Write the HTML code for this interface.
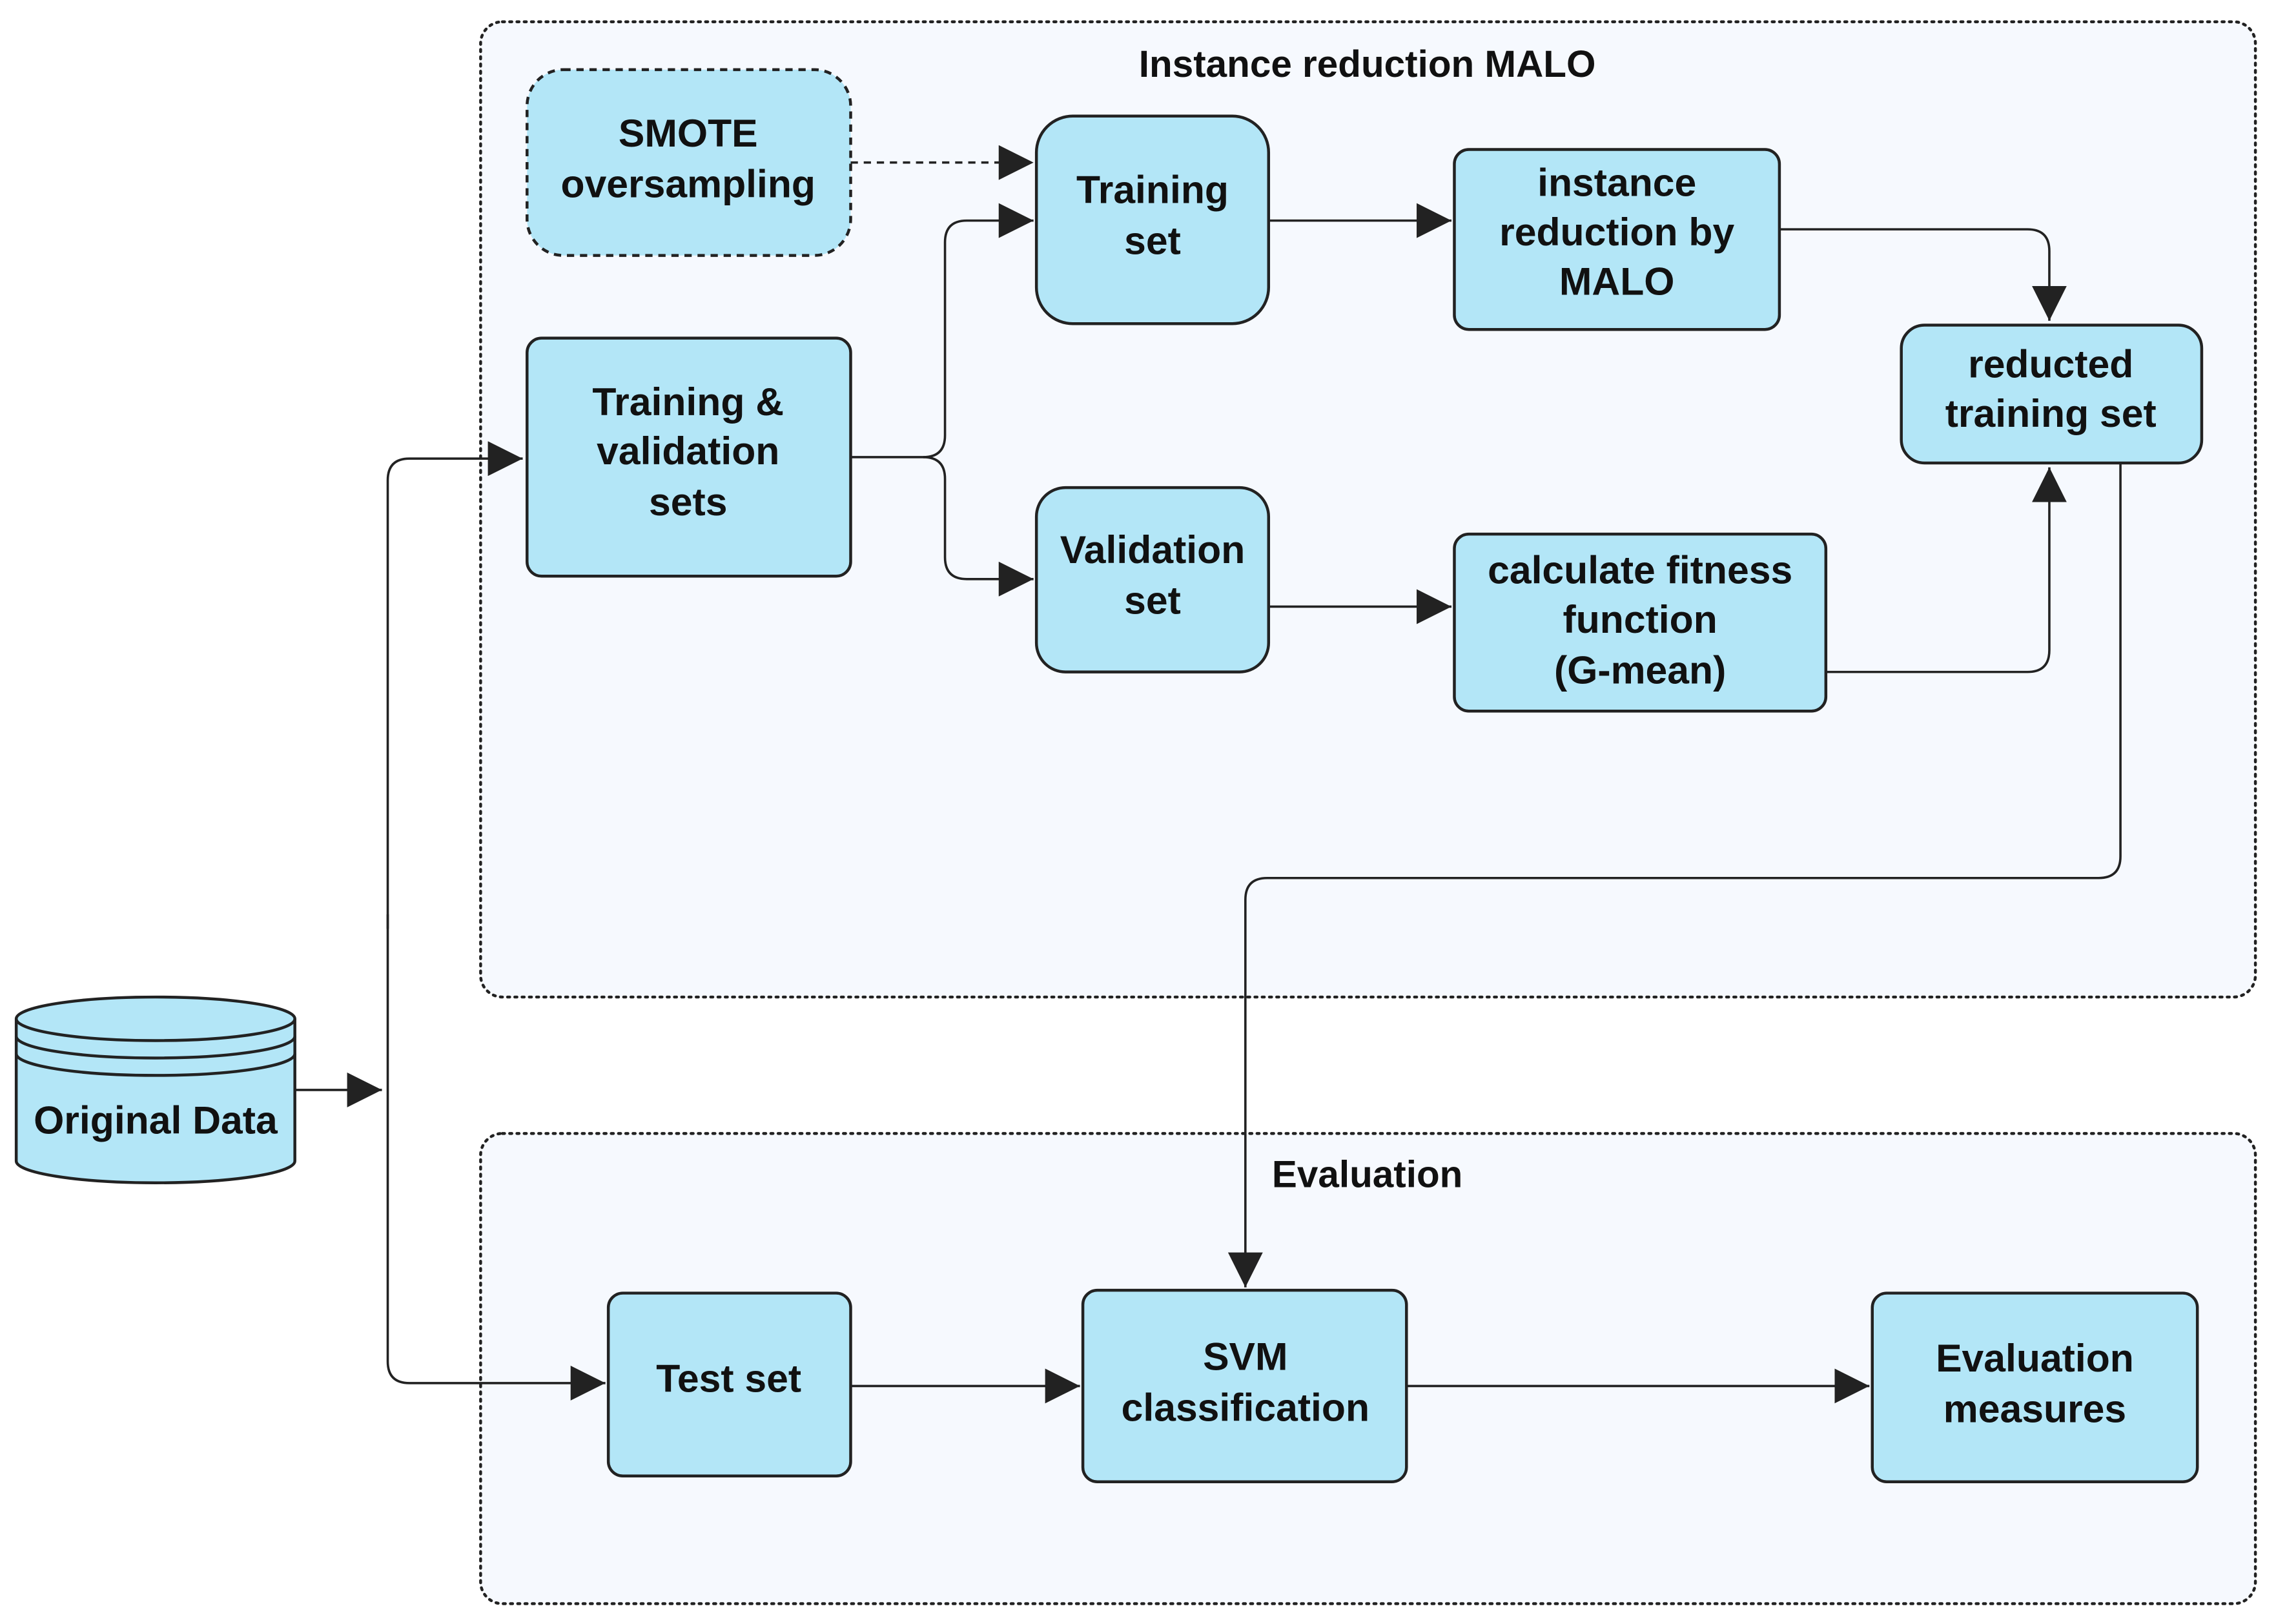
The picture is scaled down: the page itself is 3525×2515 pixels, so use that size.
<!DOCTYPE html>
<html><head><meta charset="utf-8"><style>
html,body{margin:0;padding:0;background:#fff;}
svg{display:block;}
text{font-family:"Liberation Sans",sans-serif;font-weight:bold;fill:#111;text-anchor:middle;}
</style></head><body>
<svg width="3525" height="2515" viewBox="0 0 1568 1119" xmlns="http://www.w3.org/2000/svg">
<defs>
<marker id="a" viewBox="0 0 10 10" refX="10" refY="5" markerWidth="24" markerHeight="24" markerUnits="userSpaceOnUse" orient="auto">
<path d="M0,0 L10,5 L0,10 z" fill="#222"/></marker>
</defs>
<g fill="#f6f9fe" stroke="#222" stroke-width="2" stroke-dasharray="1.5 3.5" stroke-linecap="round">
<rect x="331" y="15" width="1223" height="672" rx="15"/>
<rect x="331" y="781" width="1223" height="324" rx="15"/>
</g>
<text x="942" y="53" font-size="26">Instance reduction MALO</text>
<text x="942" y="818" font-size="26">Evaluation</text>

<g fill="none" stroke="#222" stroke-width="1.6">
<path d="M203,751 H263" marker-end="url(#a)"/>
<path d="M267,640 V331 Q267,316 282,316 H360" marker-end="url(#a)"/>
<path d="M267,630 V938 Q267,953 282,953 H417" marker-end="url(#a)"/>
<path d="M586,315 H636 Q651,315 651,300 V167 Q651,152 666,152 H712" marker-end="url(#a)"/>
<path d="M636,315 Q651,315 651,330 V384 Q651,399 666,399 H712" marker-end="url(#a)"/>
<path d="M586,112 H712" stroke-dasharray="5 4" marker-end="url(#a)"/>
<path d="M874,152 H1000" marker-end="url(#a)"/>
<path d="M1226,158 H1397 Q1412,158 1412,173 V221" marker-end="url(#a)"/>
<path d="M874,418 H1000" marker-end="url(#a)"/>
<path d="M1258,463 H1397 Q1412,463 1412,448 V322" marker-end="url(#a)"/>
<path d="M1461,319 V590 Q1461,605 1446,605 H873 Q858,605 858,620 V887" marker-end="url(#a)"/>
<path d="M586,955 H744" marker-end="url(#a)"/>
<path d="M969,955 H1288" marker-end="url(#a)"/>
</g>

<g fill="#b3e6f7" stroke="#222" stroke-width="2">
<rect x="363" y="48" width="223" height="128" rx="25" stroke-dasharray="5 4"/>
<rect x="714" y="80" width="160" height="143" rx="25"/>
<rect x="1002" y="103" width="224" height="124" rx="10"/>
<rect x="1310" y="224" width="207" height="95" rx="16"/>
<rect x="363" y="233" width="223" height="164" rx="10"/>
<rect x="714" y="336" width="160" height="127" rx="20"/>
<rect x="1002" y="368" width="256" height="122" rx="10"/>
<rect x="419" y="891" width="167" height="126" rx="10"/>
<rect x="746" y="889" width="223" height="132" rx="10"/>
<rect x="1290" y="891" width="224" height="130" rx="10"/>
<path d="M11,702 V800 A96,15 0 0 0 203,800 V702 A96,15 0 0 0 11,702 Z"/>
<path d="M11,702 A96,15 0 0 0 203,702" fill="none"/>
<path d="M11,714 A96,15 0 0 0 203,714" fill="none"/>
<path d="M11,726 A96,15 0 0 0 203,726" fill="none"/>
</g>

<g font-size="27">
<text x="474" y="101">SMOTE</text>
<text x="474" y="136">oversampling</text>
<text x="794" y="140">Training</text>
<text x="794" y="175">set</text>
<text x="1114" y="135">instance</text>
<text x="1114" y="169">reduction by</text>
<text x="1114" y="203">MALO</text>
<text x="1413" y="260">reducted</text>
<text x="1413" y="294">training set</text>
<text x="474" y="286">Training &amp;</text>
<text x="474" y="320">validation</text>
<text x="474" y="355">sets</text>
<text x="794" y="388">Validation</text>
<text x="794" y="423">set</text>
<text x="1130" y="402">calculate fitness</text>
<text x="1130" y="436">function</text>
<text x="1130" y="471">(G-mean)</text>
<text x="502" y="959">Test set</text>
<text x="858" y="944">SVM</text>
<text x="858" y="979">classification</text>
<text x="1402" y="945">Evaluation</text>
<text x="1402" y="980">measures</text>
<text x="107" y="781">Original Data</text>
</g>
</svg>
</body></html>
